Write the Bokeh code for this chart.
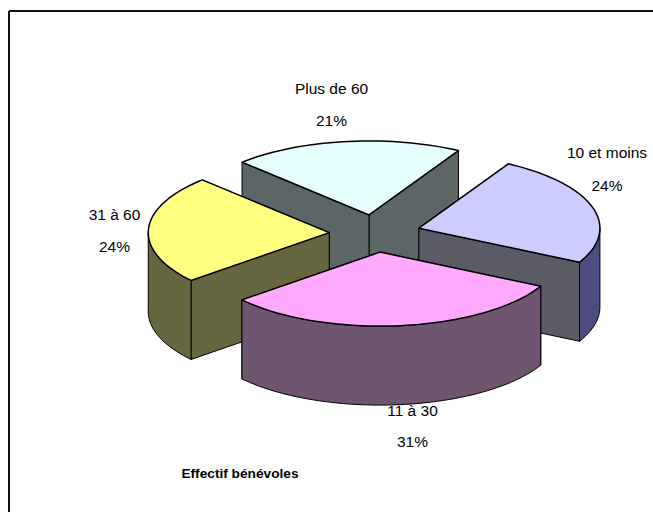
import math
from bokeh.embed import file_html
from bokeh.resources import INLINE
from bokeh.models import Range1d
from bokeh.plotting import figure
from bokeh.core.properties import value

categories = ["10 et moins", "11 à 30", "31 à 60", "Plus de 60"]
shares = [24.4, 31.2, 23.8, 20.6]
title_text = "Effectif bénévoles"

top_colors = ["#CCCCFF", "#FFA9FF", "#FFFF80", "#E5FFFF"]
wall_colors = ["#5B5B66", "#6E5570", "#666640", "#5C6666"]
rim_colors = ["#4D4D80", "#6E5570", "#666640", "#5C6666"]
label_pos = [(606.5, 152, 185), (412, 410, 441), (114, 214, 246), (331, 88, 120)]

W, H = 653, 512
CX, CY, A, B, DEPTH = 374.5, 233.0, 181.0, 74.0, 79.0
EXPLODE, START = 0.253, 29.6
FONT = "Liberation Sans"

p = figure(width=W, height=H, output_backend="svg", toolbar_location=None,
           x_range=Range1d(0, W), y_range=Range1d(H, 0),
           min_border=0, x_axis_type=None, y_axis_type=None)
p.grid.visible = False
p.outline_line_color = None
p.background_fill_color = "white"
p.border_fill_color = "white"

# frame: only the top and left edges are visible
p.segment(x0=[8.5, 8.5], y0=[10.5, 10.5], x1=[W, 8.5], y1=[10.5, H],
          line_color="#111111", line_width=2)

total = sum(shares)
def pt(ax, ay, deg, r=1.0):
    t = math.radians(deg)
    return ax + A * r * math.sin(t), ay - B * r * math.cos(t)

angle = START
slices = []
for i, s in enumerate(shares):
    a0 = angle
    a1 = angle + 360.0 * s / total
    mid = (a0 + a1) / 2
    ax, ay = pt(CX, CY, mid, EXPLODE)
    slices.append((i, a0, a1, ax, ay))
    angle = a1

def arc(ax, ay, a0, a1):
    n = max(2, int(abs(a1 - a0) / 2))
    return [pt(ax, ay, a0 + (a1 - a0) * k / n) for k in range(n + 1)]

def poly(pts, fill, width=1.0):
    p.patch([q[0] for q in pts], [q[1] for q in pts], fill_color=fill,
            line_color="#000000", line_width=width, line_join="round")

# painter order: back slice first, front slice last
for i, a0, a1, ax, ay in sorted(slices, key=lambda r: r[4]):
    corners = sorted([pt(ax, ay, a0), pt(ax, ay, a1)], key=lambda q: q[1])
    for c in corners:
        poly([(ax, ay), c, (c[0], c[1] + DEPTH), (ax, ay + DEPTH)], wall_colors[i])
    lo, hi = max(a0, 90.0), min(a1, 270.0)
    if lo < hi:
        edge = arc(ax, ay, lo, hi)
        poly(edge + [(q[0], q[1] + DEPTH) for q in reversed(edge)], rim_colors[i])
    poly([(ax, ay)] + arc(ax, ay, a0, a1), top_colors[i], 1.5)

for name, s, (lx, y1, y2) in zip(categories, shares, label_pos):
    p.text([lx, lx], [y1, y2], text=[name, f"{round(100 * s / total)}%"],
           text_font=value(FONT), text_font_size="15.5px", text_color="#000000",
           text_align="center", text_baseline="middle")

p.text([239.5], [473], text=[title_text], text_font=value(FONT), text_font_size="13.7px",
       text_font_style="bold", text_color="#000000",
       text_align="center", text_baseline="middle")

open("out.html", "w").write(file_html(p, INLINE))
